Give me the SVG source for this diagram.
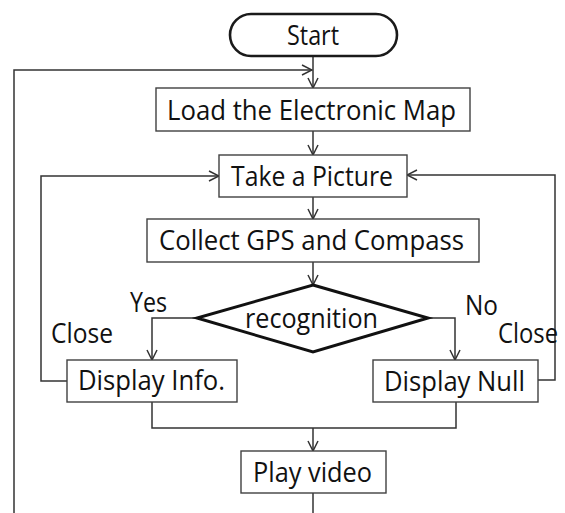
<svg xmlns="http://www.w3.org/2000/svg" width="565" height="513" viewBox="0 0 565 513">
<defs>
<style>
.box{fill:#fff;stroke:#404040;stroke-width:1.4}
.term{fill:#fff;stroke:#1a1a1a;stroke-width:2.6}
.dec{fill:#fff;stroke:#111;stroke-width:3}
.c{fill:none;stroke:#333;stroke-width:1.5}
text{font-family:"Open Sans","Noto Sans",sans-serif;font-size:27px;fill:#111}
.m{text-anchor:middle}
</style>
<marker id="ah" viewBox="0 0 12 12" refX="11" refY="6" markerWidth="12" markerHeight="12" markerUnits="userSpaceOnUse" orient="auto">
<path d="M1,1 L11,6 L1,11" fill="none" stroke="#333" stroke-width="1.5"/>
</marker>
</defs>
<g id="connectors">
<path class="c" d="M313,56 V88" marker-end="url(#ah)"/>
<path class="c" d="M14,513 V70 H312" marker-end="url(#ah)"/>
<path class="c" d="M313,131 V155" marker-end="url(#ah)"/>
<path class="c" d="M313,197 V219" marker-end="url(#ah)"/>
<path class="c" d="M313,262 V285" marker-end="url(#ah)"/>
<path class="c" d="M197,318 H152 V360" marker-end="url(#ah)"/>
<path class="c" d="M428,318 H455 V360" marker-end="url(#ah)"/>
<path class="c" d="M67,381 H41 V176 H219" marker-end="url(#ah)"/>
<path class="c" d="M538,380 H555 V175 H407" marker-end="url(#ah)"/>
<path class="c" d="M152,402 V428 H456 V402"/>
<path class="c" d="M313,428 V451" marker-end="url(#ah)"/>
<path class="c" d="M313,493 V513"/>
</g>
<g id="start">
<rect class="term" x="230" y="14" width="167" height="42" rx="21"/>
<text class="m" x="313" y="45" textLength="52" lengthAdjust="spacingAndGlyphs">Start</text>
</g>
<g id="load">
<rect class="box" x="156" y="88" width="314" height="43"/>
<text x="167" y="120" textLength="289" lengthAdjust="spacingAndGlyphs">Load the Electronic Map</text>
</g>
<g id="take">
<rect class="box" x="219" y="155" width="188" height="42"/>
<text x="231" y="186" textLength="162" lengthAdjust="spacingAndGlyphs">Take a Picture</text>
</g>
<g id="collect">
<rect class="box" x="147" y="219" width="332" height="43"/>
<text x="159" y="250" textLength="305" lengthAdjust="spacingAndGlyphs">Collect GPS and Compass</text>
</g>
<g id="recognition">
<polygon class="dec" points="313,285 428,318 313,352 197,318"/>
<text x="245" y="328" textLength="133" lengthAdjust="spacingAndGlyphs">recognition</text>
</g>
<g id="info">
<rect class="box" x="67" y="360" width="170" height="42"/>
<text x="78" y="390" textLength="147" lengthAdjust="spacingAndGlyphs">Display Info.</text>
</g>
<g id="null">
<rect class="box" x="373" y="360" width="165" height="42"/>
<text x="384" y="391" textLength="141" lengthAdjust="spacingAndGlyphs">Display Null</text>
</g>
<g id="play">
<rect class="box" x="241" y="451" width="145" height="42"/>
<text x="253" y="482" textLength="119" lengthAdjust="spacingAndGlyphs">Play video</text>
</g>
<g id="labels">
<text x="130" y="312" textLength="37" lengthAdjust="spacingAndGlyphs">Yes</text>
<text x="51" y="343" textLength="62" lengthAdjust="spacingAndGlyphs">Close</text>
<text x="465" y="315" textLength="33" lengthAdjust="spacingAndGlyphs">No</text>
<text x="498" y="343" textLength="60" lengthAdjust="spacingAndGlyphs">Close</text>
</g>
</svg>
